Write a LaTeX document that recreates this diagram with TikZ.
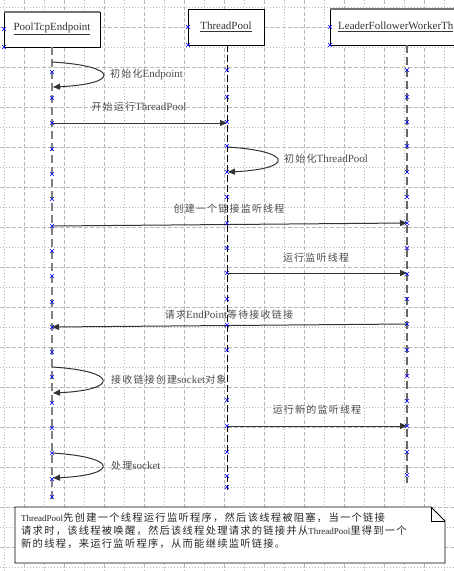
\documentclass[tikz,border=0pt]{standalone}
\usepackage{fontspec}
\setmainfont{Liberation Serif}
\newfontfamily\cjkf[LetterSpace=12]{Noto Sans CJK SC}
\usetikzlibrary{arrows.meta}
\newcommand\zhs[1]{{\cjkf\fontsize{10}{13}\selectfont #1}}
\newcommand\zhn[1]{{\cjkf\fontsize{10.3}{13}\selectfont #1}}
\newcommand\xmk[2]{\draw[xmark] (#1-2,#2-2)--(#1+2,#2+2) (#1-2,#2+2)--(#1+2,#2-2);}
\begin{document}
\begin{tikzpicture}[x=1pt,y=-1pt,
  minorgrid/.style={draw=black!28,line width=0.6pt,dash pattern=on 1pt off 2pt},
  majorgrid/.style={draw=black!28,line width=0.7pt,dash pattern=on 4pt off 2pt},
  lifeA/.style={draw=black!50,line width=1.8pt,dash pattern=on 8pt off 4pt},
  lifeB/.style={draw=black,line width=1pt,dash pattern=on 7pt off 3pt},
  lifeC/.style={draw=black!60,line width=1.5pt,dash pattern=on 8pt off 4pt},
  objbox/.style={draw=black,line width=0.9pt,fill=white},
  objtxt/.style={font=\fontsize{11}{13}\selectfont,text=black!80,inner sep=0pt},
  msg/.style={draw=black!80,line width=1pt,-{Triangle[length=7pt,width=6pt]}},
  lbl/.style={font=\fontsize{11}{13}\selectfont,text=black!70,inner sep=0pt},
  xmark/.style={draw=blue,line width=0.6pt},
  notebox/.style={draw=black,line width=0.9pt,fill=white}]
\useasboundingbox (0,0) rectangle (454,571);
\clip (0,0) rectangle (454,571);
\fill[white] (0,0) rectangle (454,571);
% grid
\foreach \x in {4,44,...,444} \draw[minorgrid] (\x,0)--(\x,571);
\foreach \x in {24,64,...,444} \draw[majorgrid] (\x,0)--(\x,571);
\foreach \y in {7,47,...,567} \draw[minorgrid] (0,\y)--(454,\y);
\foreach \y in {27,67,...,547} \draw[majorgrid] (0,\y)--(454,\y);
% object boxes
\draw[objbox] (4,12) rectangle (100,47);
\draw[objbox] (188,9) rectangle (264,45);
\draw[objbox] (330,9) rectangle (470,45);
\draw[black!55,line width=1.2pt] (4,12)--(100,12);
\draw[black!55,line width=1.2pt] (330,9)--(470,9);
\node[objtxt] (o1) at (52,29) {\underline{PoolTcpEndpoint}};
\node[objtxt] (o2) at (226,27) {\underline{ThreadPool}};
\node[objtxt,anchor=west] (o3) at (338,27) {\underline{LeaderFollowerWorkerTh}};
% lifelines
\coordinate (l1t) at (52,47); \coordinate (l1b) at (52,502);
\coordinate (l2t) at (227,45); \coordinate (l2b) at (227,490);
\coordinate (l3t) at (407,45); \coordinate (l3b) at (407,483);
\draw[lifeA] (l1t)--(l1b);
\draw[lifeB] (l2t)--(l2b);
\draw[lifeC] (l3t)--(l3b);
% note
\draw[notebox] (15,507)--(431,507)--(445,521)--(445,563)--(15,563)--cycle;
\draw[black,line width=0.8pt] (431,507)--(431,521)--(445,521);
\node[anchor=north west,align=left,inner sep=0pt,text=black!85,font=\fontsize{9}{13}\selectfont] (note) at (21,513)
 {ThreadPool\zhn{先创建一个线程运行监听程序，然后该线程被阻塞，当一个链接}\\
  \zhn{请求时，该线程被唤醒，然后该线程处理请求的链接并从}ThreadPool\zhn{里得到一个}\\
  \zhn{新的线程，来运行监听程序，从而能继续监听链接。}};
% message coordinates
\coordinate (a1s) at (52,62); \coordinate (a1e) at (53,87);
\coordinate (a2s) at (52,123); \coordinate (a2e) at (227,123);
\coordinate (a3s) at (227,147); \coordinate (a3e) at (228,172);
\coordinate (a4s) at (52,226); \coordinate (a4e) at (407,223);
\coordinate (a5s) at (227,273); \coordinate (a5e) at (407,273);
\coordinate (a6s) at (407,324); \coordinate (a6e) at (52,327);
\coordinate (a7s) at (52,367); \coordinate (a7e) at (53,393);
\coordinate (a8s) at (227,426); \coordinate (a8e) at (407,426);
\coordinate (a9s) at (52,453); \coordinate (a9e) at (53,478);
% messages
\draw[msg] (a1s) .. controls (120,66) and (120,84) .. (a1e);
\draw[msg] (a2s) -- (a2e);
\draw[msg] (a3s) .. controls (294,151) and (294,169) .. (a3e);
\draw[msg] (a4s) -- (a4e);
\draw[msg] (a5s) -- (a5e);
\draw[msg] (a6s) -- (a6e);
\draw[msg] (a7s) .. controls (119,371) and (119,390) .. (a7e);
\draw[msg] (a8s) -- (a8e);
\draw[msg] (a9s) .. controls (119,457) and (119,475) .. (a9e);
% markers
\xmk{4}{29}\xmk{4}{47}\xmk{188}{27}\xmk{188}{45}\xmk{330}{27}\xmk{330}{45}
\foreach \y in {72,98,123,149,174,199,226,251,276,302,327,352,377,403,428,453,479,497} {\xmk{52}{\y}}
\foreach \y in {70,97,122,146,172,197,223,248,273,299,325,350,400,426,452,476,487} {\xmk{227}{\y}}
\foreach \y in {70,97,122,146,172,197,223,248,274,299,324,350,376,401,426,452,475} {\xmk{407}{\y}}
% labels
\node[lbl,anchor=west] (t1) at (110,74) {\zhs{初始化}Endpoint};
\node[lbl] (t2) at (139,107) {\zhs{开始运行}ThreadPool};
\node[lbl,anchor=west] (t3) at (284,159) {\zhs{初始化}ThreadPool};
\node[lbl] (t4) at (229,209) {\zhs{创建一个链接监听线程}};
\node[lbl] (t5) at (316,258) {\zhs{运行监听线程}};
\node[lbl] (t6) at (229,315) {\zhs{请求}EndPoint\zhs{等待接收链接}};
\node[lbl,anchor=west] (t7) at (111,380) {\zhs{接收链接创建}socket\zhs{对象}};
\node[lbl] (t8) at (317,410) {\zhs{运行新的监听线程}};
\node[lbl,anchor=west] (t9) at (111,466) {\zhs{处理}socket};
\end{tikzpicture}
\end{document}
